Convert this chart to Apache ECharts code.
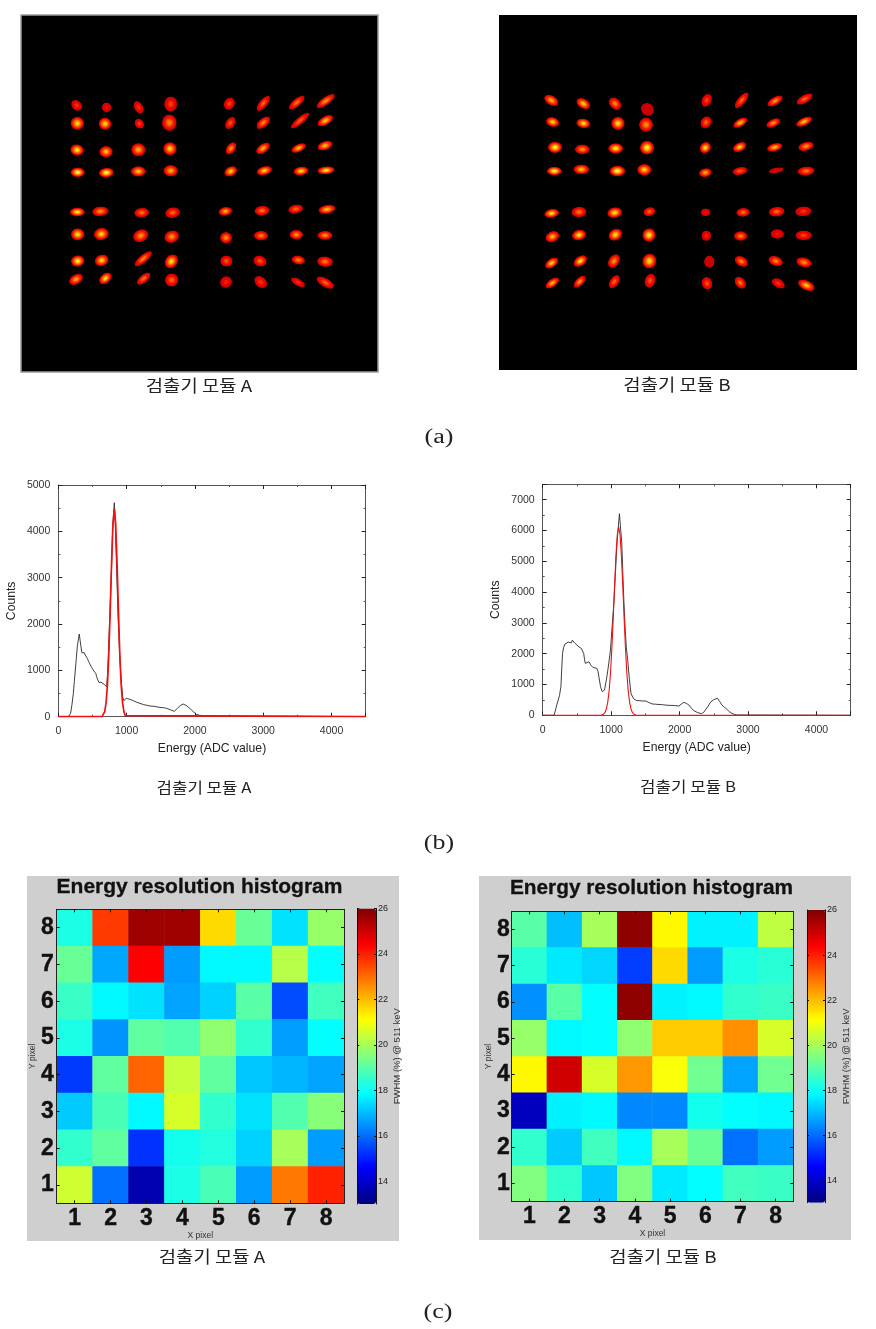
<!DOCTYPE html>
<html><head><meta charset="utf-8">
<style>html,body{margin:0;padding:0;background:#fff}#c{width:876px;height:1329px}</style>
<script src="https://cdn.jsdelivr.net/npm/echarts@6/dist/echarts.min.js"></script>
</head><body><div id="c"></div>
<script>
// Flood-map spots: [x, y, spread along axis, spread across axis, tilt deg, peak brightness]
const floodA = [
[170,76,16,11,-45,.3],[260,82,13,11,-50,.2],[356,82,18,10,-60,.3],[452,72,20,15,90,.35],[628,71,17,12,60,.35],[730,70,25,9,50,.45],[830,68,26,9,40,.5],[917,63,29,9,35,.6],
[172,130,18,15,0,.85],[255,131,17,14,-10,.85],[358,131,14,10,-50,.35],[448,128,22,17,90,.55],[631,129,18,10,55,.4],[730,128,22,10,40,.55],[840,122,31,8,40,.45],[916,122,23,10,30,.75],
[171,210,18,13,-10,.9],[258,215,18,13,0,.75],[355,209,19,15,0,.7],[450,206,18,15,0,.8],[633,205,18,10,55,.6],[729,205,21,10,35,.7],[836,204,21,9,25,.75],[915,197,21,10,20,.75],
[173,277,19,11,0,1],[259,278,20,11,5,1],[355,274,20,12,0,.75],[452,272,19,13,0,.7],[632,274,18,11,25,.8],[733,272,21,10,15,.8],[843,273,20,10,8,.85],[918,271,23,9,5,.9],
[172,396,20,10,0,.9],[241,394,22,11,5,.6],[365,398,20,11,5,.5],[458,398,20,12,10,.45],[616,394,18,10,10,.7],[726,392,20,11,5,.5],[827,387,20,10,10,.45],[921,388,23,10,10,.75],
[173,463,18,14,0,.85],[244,462,20,14,10,.8],[362,467,21,14,25,.6],[455,470,20,14,20,.6],[618,473,16,13,0,.6],[723,467,19,11,0,.55],[829,464,18,11,0,.6],[915,466,20,10,0,.6],
[173,543,18,13,5,.95],[245,541,19,13,20,.8],[370,536,29,9,40,.55],[454,544,20,14,50,.85],[619,543,15,14,90,.4],[720,543,18,12,-20,.4],[835,540,18,10,-10,.55],[915,545,21,12,-5,.5],
[168,598,20,11,30,.65],[256,595,19,11,40,.85],[371,596,22,9,40,.5],[455,600,18,15,30,.45],[618,606,15,14,-60,.25],[722,606,19,12,-40,.3],[834,607,21,8,-30,.3],[916,608,26,10,-30,.45]
];
const floodB = [
[160,61,21,11,-30,.7],[256,71,20,11,-30,.8],[351,71,19,12,-45,.55],[448,88,18,14,-45,.03],[626,61,18,11,65,.35],[731,61,26,9,50,.45],[831,63,23,9,30,.6],[920,57,24,9,30,.45],
[164,126,18,11,-15,.8],[256,130,19,11,-10,.85],[360,130,18,15,0,.85],[444,134,19,16,90,.6],[624,127,17,12,55,.45],[727,128,21,9,30,.75],[826,129,20,9,25,.6],[918,125,23,9,25,.75],
[171,202,19,13,0,.95],[253,208,20,11,0,.6],[353,205,20,12,0,.9],[447,203,19,16,0,.95],[622,203,16,12,45,.85],[725,201,19,10,25,.8],[830,202,21,9,15,.75],[924,199,21,10,15,.6],
[169,273,20,10,0,1],[250,268,21,11,0,.75],[358,273,21,12,0,1],[439,269,19,13,0,.8],[622,278,17,10,10,.7],[726,273,20,9,10,.45],[835,271,20,6,10,.08],[924,273,23,10,5,.5],
[161,400,20,10,10,.85],[243,396,20,12,5,.5],[350,398,20,12,10,.85],[454,395,16,10,15,.45],[623,397,13,9,0,.2],[735,397,18,10,5,.5],[836,395,21,11,5,.45],[916,394,22,11,5,.3],
[163,470,19,12,25,.7],[243,465,19,12,15,.85],[352,464,19,13,30,.85],[453,465,18,15,55,.9],[625,467,13,12,0,.25],[728,468,18,11,0,.55],[838,462,18,11,0,.2],[917,466,22,11,0,.35],
[161,549,20,10,35,.8],[247,543,20,11,35,.85],[348,543,20,12,55,.6],[454,543,20,16,65,.85],[634,545,14,14,0,.03],[730,544,19,11,-30,.55],[833,543,20,11,-20,.55],[918,547,21,11,-15,.6],
[163,609,21,9,35,.7],[245,605,20,9,45,.6],[349,605,20,10,55,.45],[456,602,19,12,70,.4],[627,610,17,12,-75,.4],[727,608,18,11,-50,.5],[841,610,19,10,-30,.3],[925,616,24,11,-25,.75]
];
// Energy spectra: [ADC value, counts]
const spectrumA = [[0,0],[146,0],[165,14],[180,72],[200,260],[220,503],[235,760],[249,1007],[264,1260],[278,1510],[293,1660],[307,1784],[320,1640],[332,1510],[345,1380],[351,1352],[365,1370],[380,1381],[395,1330],[410,1290],[424,1259],[445,1190],[460,1140],[473,1115],[490,1060],[510,1010],[525,985],[537,1029],[550,930],[561,863],[580,790],[595,740],[610,719],[625,745],[649,755],[670,700],[690,670],[707,647],[720,900],[732,1295],[755,2200],[780,3237],[795,4000],[810,4400],[820,4618],[830,4350],[854,3165],[875,2150],[902,1223],[920,800],[941,432],[958,345],[976,360],[995,395],[1015,410],[1050,375],[1098,345],[1150,310],[1195,288],[1250,260],[1300,245],[1341,230],[1400,225],[1450,210],[1488,200],[1540,195],[1585,180],[1640,150],[1698,115],[1725,150],[1756,201],[1790,245],[1829,273],[1855,265],[1878,237],[1915,190],[1951,144],[1990,90],[2024,50],[2070,30],[2122,22],[2195,20],[2205,0],[4500,0]];
const fitA = [[0,0],[640,0],[660,25],[680,110],[700,310],[720,700],[740,1370],[760,2300],[780,3330],[800,4160],[820,4480],[840,4160],[860,3320],[880,2300],[900,1360],[920,700],[940,310],[960,110],[980,25],[1000,0],[4500,0]];
const spectrumB = [[0,0],[164,0],[180,110],[193,227],[210,370],[227,497],[245,640],[266,929],[278,1500],[290,2009],[305,2200],[324,2311],[345,2370],[372,2376],[395,2340],[420,2354],[432,2440],[444,2419],[470,2340],[493,2290],[530,2220],[565,2171],[585,2110],[599,2009],[612,1800],[623,1685],[650,1700],[676,1739],[700,1640],[734,1555],[760,1500],[792,1523],[808,1420],[821,1253],[845,930],[870,767],[888,790],[903,821],[930,1150],[952,1469],[972,1800],[990,2117],[1015,2900],[1039,3629],[1060,4500],[1082,5465],[1100,6000],[1121,6545],[1140,6490],[1155,5600],[1169,4709],[1186,3700],[1203,2873],[1222,2200],[1242,1793],[1265,1200],[1290,713],[1315,590],[1338,518],[1375,480],[1411,475],[1460,465],[1507,464],[1555,410],[1604,367],[1650,360],[1700,350],[1749,346],[1800,330],[1845,324],[1920,318],[1990,302],[2030,370],[2063,421],[2100,385],[2135,335],[2170,240],[2208,151],[2260,90],[2319,54],[2350,90],[2377,151],[2415,290],[2449,421],[2500,510],[2556,551],[2585,450],[2618,335],[2655,260],[2691,194],[2730,115],[2763,65],[2800,30],[2836,11],[2860,0],[4500,0]];
const fitB = [[0,0],[850,0],[880,24],[910,92],[930,205],[950,420],[970,780],[990,1350],[1010,2150],[1030,3130],[1050,4200],[1070,5180],[1090,5870],[1110,6120],[1130,5870],[1150,5180],[1170,4200],[1190,3130],[1210,2150],[1230,1350],[1250,780],[1270,420],[1290,205],[1310,92],[1340,24],[1370,4],[1390,0],[4500,0]];
// FWHM (%) per crystal, rows from Y=8 (top) to Y=1 (bottom), columns X=1..8
const fwhmA = [
[18.2,23.65,25.6,25.6,21.6,19.2,17.5,19.8],
[19.2,16.75,24.4,16.6,17.8,17.8,20.2,17.9],
[18.6,17.8,17.5,16.7,17.3,19.0,15.6,18.7],
[18.2,16.5,19.1,18.9,19.7,18.5,16.65,17.9],
[15.35,19.1,23.1,20.4,19.1,17.15,16.95,16.7],
[17.2,18.8,17.8,20.6,18.5,17.5,18.9,19.6],
[18.5,19.1,15.25,18.1,18.3,17.3,20.0,16.6],
[20.5,16.05,13.6,18.2,18.8,16.6,22.85,23.95]];
const fwhmB = [
[19.0,17.06,20.0,25.8,21.2,17.7,17.7,20.3],
[18.4,17.6,17.35,15.4,21.6,16.6,18.2,18.4],
[16.45,19.0,17.9,25.8,17.7,17.8,18.5,18.6],
[19.8,17.8,17.9,19.7,21.8,21.8,22.55,20.6],
[21.2,24.96,20.6,22.45,21.05,19.3,16.7,19.3],
[13.8,17.7,17.8,16.35,16.35,18.1,17.9,17.8],
[18.5,17.2,18.7,17.8,20.0,19.2,16.05,16.6],
[19.5,18.5,17.15,19.5,17.6,17.9,18.7,18.6]];
const pixels = ['1','2','3','4','5','6','7','8'];
const colorbarTicks = [14,16,18,20,22,24,26];
const jet = ['#00007f','#0000ff','#0080ff','#00ffff','#80ff80','#ffff00','#ff8000','#ff0000','#7f0000'];

const SANS = '"Liberation Sans", Arial, sans-serif';
const KO = '"Noto Sans CJK KR", sans-serif';
const SERIF = '"Liberation Serif", serif';

const grid=[], xAxis=[], yAxis=[], series=[], visualMap=[], title=[], graphic=[];

function mixHex(a,b,t){const p=h=>[1,3,5].map(i=>parseInt(h.substr(i,2),16));const A=p(a),B=p(b);
  return 'rgb('+A.map((v,i)=>Math.round(v+(B[i]-v)*t)).join(',')+')';}
function hot(v){const s=[[0,'#c80000'],[.15,'#f00000'],[.45,'#ff7000'],[.75,'#ffd800'],[1,'#ffff80']];
  for(let i=1;i<s.length;i++) if(v<=s[i][0]) return mixHex(s[i-1][1],s[i][1],(v-s[i-1][0])/(s[i][0]-s[i-1][0]));
  return s[4][1];}
function addFlood(data,rect,xr,yr,border){
  const gi=grid.length;
  grid.push({left:rect[0],top:rect[1],width:rect[2],height:rect[3],show:true,backgroundColor:'#000',borderColor:border||'#000',borderWidth:border?1.5:0});
  xAxis.push({gridIndex:gi,type:'value',min:xr[0],max:xr[1],show:false});
  yAxis.push({gridIndex:gi,type:'value',min:yr[0],max:yr[1],inverse:true,show:false});
  series.push({type:'custom',xAxisIndex:xAxis.length-1,yAxisIndex:yAxis.length-1,data:data,silent:true,
    encode:{x:0,y:1},
    renderItem:function(params,api){
      const c=api.coord([api.value(0),api.value(1)]);
      const s=api.size([api.value(2)*1.12,api.value(3)*1.3]);
      const p=api.value(5);
      const stops=[{offset:0,color:hot(p)},{offset:.26,color:hot(p*.8)},{offset:.55,color:hot(p*.42)},
                   {offset:.84,color:hot(p*.14)},{offset:.96,color:'#c40000'},{offset:1,color:'#6a0000'}];
      return {type:'circle',x:c[0],y:c[1],rotation:api.value(4)*Math.PI/180,
        scaleX:s[0]/s[1],scaleY:1,
        shape:{cx:0,cy:0,r:s[1]},
        style:{fill:new echarts.graphic.RadialGradient(.5,.5,.5,stops)}};
    }});
}
function addSpectrum(rect,black,red,ymax,redW,cGap){
  const gi=grid.length, col='#555';
  grid.push({left:rect[0],top:rect[1],width:rect[2],height:rect[3],show:false});
  const base={gridIndex:gi,type:'value',splitLine:{show:false},
    axisLine:{show:true,onZero:false,lineStyle:{color:col,width:1}},
    axisTick:{show:true,inside:true,length:4,lineStyle:{color:'#222'}},
    minorTick:{show:true,splitNumber:2,length:2,lineStyle:{color:'#555'}}};
  const fmt=v=>(v%1000===0?String(v):'');
  const lab={show:true,fontFamily:SANS,fontSize:10.5,color:'#333',margin:8,formatter:fmt,showMaxLabel:true};
  xAxis.push(Object.assign({},base,{min:0,max:4500,interval:1000,position:'bottom',axisLabel:Object.assign({},lab,{margin:9}),
     name:'Energy (ADC value)',nameLocation:'middle',nameGap:26,nameTextStyle:{fontFamily:SANS,fontSize:12.2,color:'#222'}}));
  const xi=xAxis.length-1;
  xAxis.push(Object.assign({},base,{min:0,max:4500,interval:1000,position:'top',axisLabel:{show:false}}));
  yAxis.push(Object.assign({},base,{min:0,max:ymax,interval:1000,position:'left',axisLabel:lab,
     name:'Counts',nameLocation:'middle',nameRotate:90,nameGap:cGap,nameTextStyle:{fontFamily:SANS,fontSize:12.2,color:'#222'}}));
  const yi=yAxis.length-1;
  yAxis.push(Object.assign({},base,{min:0,max:ymax,interval:1000,position:'right',axisLabel:{show:false}}));
  series.push({type:'line',xAxisIndex:xi,yAxisIndex:yi,data:black,showSymbol:false,silent:true,z:3,
     lineStyle:{color:'#2a2a2a',width:.9},itemStyle:{color:'#2a2a2a'}});
  series.push({type:'line',xAxisIndex:xi,yAxisIndex:yi,data:red,showSymbol:false,silent:true,z:4,
     lineStyle:{color:'#f01010',width:redW},itemStyle:{color:'#f01010'}});
}
function addHeat(values,panel,rect,bar,opts){
  graphic.push({type:'rect',z:-10,silent:true,shape:{x:panel[0],y:panel[1],width:panel[2],height:panel[3]},style:{fill:'#cfcfcf'}});
  const gi=grid.length;
  grid.push({left:rect[0],top:rect[1],width:rect[2],height:rect[3],show:false});
  const tick={show:true,inside:true,alignWithLabel:true,length:3,lineStyle:{color:'#111',width:1}};
  const line={show:true,onZero:false,lineStyle:{color:'#222',width:1}};
  const lab={show:true,fontFamily:SANS,fontSize:opts.tickFont,fontWeight:'bold',color:'#111',textBorderColor:'#111',textBorderWidth:.4};
  const nm={fontFamily:SANS,fontSize:8.5,color:'#333'};
  xAxis.push({gridIndex:gi,type:'category',data:pixels,z:5,position:'bottom',axisLine:line,axisTick:tick,axisLabel:Object.assign({margin:opts.xMargin},lab),splitLine:{show:false},
     name:'X pixel',nameLocation:'middle',nameGap:opts.xGap,nameTextStyle:nm});
  const xi=xAxis.length-1;
  xAxis.push({gridIndex:gi,type:'category',data:pixels,z:5,position:'top',axisLine:line,axisTick:tick,axisLabel:{show:false},splitLine:{show:false}});
  yAxis.push({gridIndex:gi,type:'category',data:pixels,z:5,position:'left',axisLine:line,axisTick:tick,axisLabel:Object.assign({margin:opts.yMargin},lab),splitLine:{show:false},
     name:'Y pixel',nameLocation:'middle',nameRotate:90,nameGap:opts.yGap,nameTextStyle:nm});
  const yi=yAxis.length-1;
  yAxis.push({gridIndex:gi,type:'category',data:pixels,z:5,position:'right',axisLine:line,axisTick:tick,axisLabel:{show:false},splitLine:{show:false}});
  const cells=[];
  values.forEach((row,r)=>row.forEach((v,c)=>cells.push([c,7-r,v])));
  series.push({type:'heatmap',xAxisIndex:xi,yAxisIndex:yi,data:cells,silent:true,progressive:0,z:2});
  const si=series.length-1;
  visualMap.push({type:'continuous',seriesIndex:si,min:13,max:26,calculable:false,hoverLink:false,realtime:false,
     left:bar[0],top:bar[1],itemWidth:bar[2],itemHeight:bar[3],padding:0,text:null,showLabel:false,inRange:{color:jet}});
  // colour-bar scale
  const bi=grid.length;
  grid.push({left:bar[0],top:bar[1],width:bar[2],height:bar[3],show:false});
  xAxis.push({gridIndex:bi,type:'value',min:0,max:1,show:false});
  const cbTick={show:true,inside:true,length:2,customValues:colorbarTicks,lineStyle:{color:'#111'}};
  const cbLine={show:true,onZero:false,lineStyle:{color:'#111',width:1}};
  yAxis.push({gridIndex:bi,type:'value',min:13,max:26,position:'right',z:6,splitLine:{show:false},
     axisLine:cbLine,axisTick:cbTick,
     axisLabel:{show:true,customValues:colorbarTicks,fontFamily:SANS,fontSize:9,color:'#222',margin:2},
     name:'FWHM (%) @ 511 keV',nameLocation:'middle',nameRotate:90,nameGap:10,nameTextStyle:{fontFamily:SANS,fontSize:9.5,color:'#333'}});
  yAxis.push({gridIndex:bi,type:'value',min:13,max:26,position:'left',z:6,splitLine:{show:false},
     axisLine:cbLine,axisTick:cbTick,axisLabel:{show:false}});
  title.push({text:'Energy resolution histogram',left:opts.titleX,top:opts.titleY,textAlign:'center',padding:0,
     textStyle:{fontFamily:SANS,fontSize:opts.titleFont,fontWeight:'bold',color:'#111',textBorderColor:'#111',textBorderWidth:.3}});
}
function txt(s,cx,cy,font,size,sx){
  graphic.push({type:'text',x:cx,y:cy,scaleX:sx||1,silent:true,style:{text:s,fontFamily:font,fontSize:size,fill:'#222',align:'center',verticalAlign:'middle'}});
}

addFlood(floodA,[21,15,357,357],[3,1074],[-195,876],'#9a9a9a');
addFlood(floodB,[499,15,358,355],[3,1077],[-195,870]);
addSpectrum([58.3,485,307.4,231.7],spectrumA,fitA,5000,1.7,41);
addSpectrum([542.7,484.3,308,231],spectrumB,fitB,7500,1.1,41);
addHeat(fwhmA,[27,876,372,365],[56.7,909.3,287.3,294],[357.3,908.5,18.7,295.5],
  {tickFont:23,xMargin:4,yMargin:3,xGap:28,yGap:19,titleX:199.5,titleY:876.5,titleFont:21});
addHeat(fwhmB,[479,876,372,364],[511.7,911.3,281.6,290.4],[807,910,18,292.7],
  {tickFont:23,xMargin:3.5,yMargin:2,xGap:26,yGap:19,titleX:651.5,titleY:878,titleFont:20.8});

txt('검출기 모듈 A',199,386,KO,16.5,1.14);
txt('검출기 모듈 B',677,385,KO,16.5,1.14);
txt('(a)',439,438,SERIF,20,1.3);
txt('검출기 모듈 A',204,787,KO,15,1.12);
txt('검출기 모듈 B',688,786,KO,15,1.12);
txt('(b)',439,844,SERIF,20,1.3);
txt('검출기 모듈 A',212,1257,KO,16.5,1.14);
txt('검출기 모듈 B',663,1257,KO,16.5,1.14);
txt('(c)',438,1313,SERIF,20,1.3);

const chart=echarts.init(document.getElementById('c'),null,{renderer:'canvas'});
chart.setOption({animation:false,backgroundColor:'#fff',tooltip:{show:false},grid,xAxis,yAxis,series,visualMap,title,graphic:{elements:graphic}});
</script></body></html>
